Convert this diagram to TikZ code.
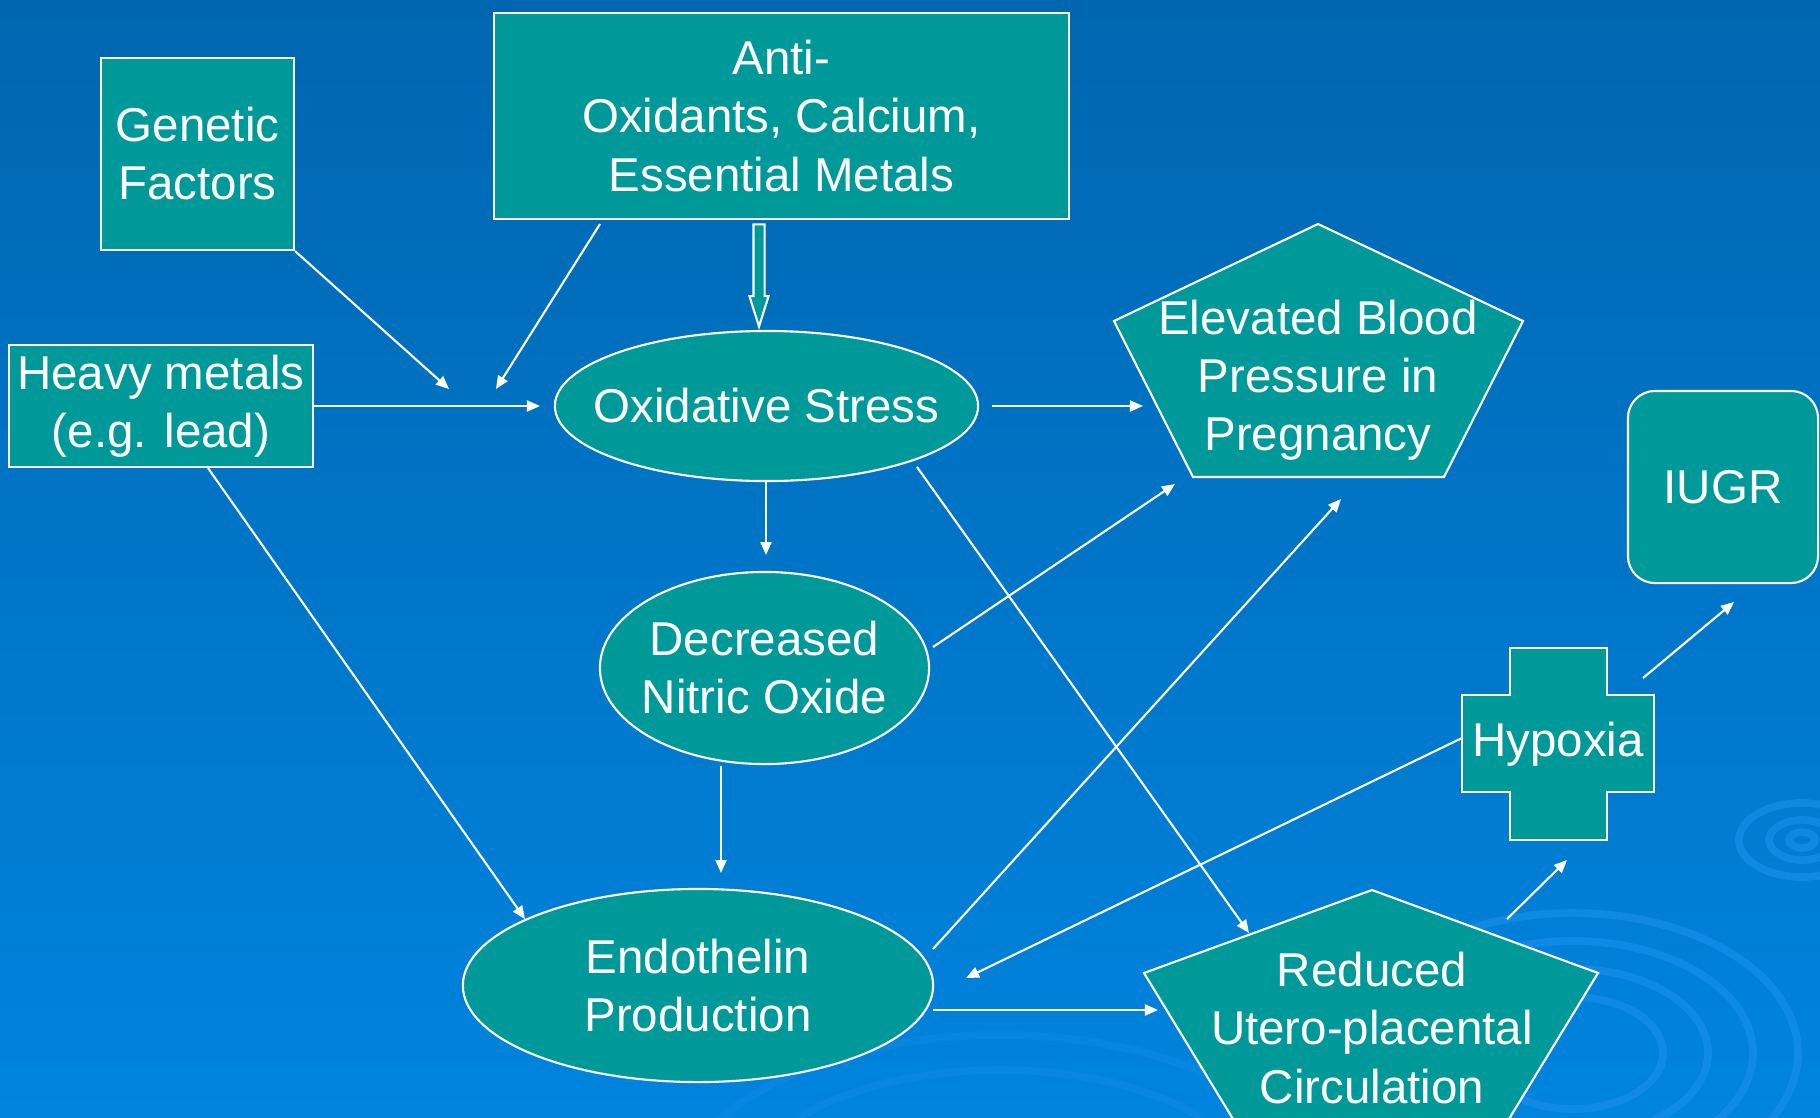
\documentclass[tikz,border=0pt]{standalone}
\usepackage{fontspec}
\setmainfont{Liberation Sans}
\usetikzlibrary{shapes.geometric,shapes.arrows,arrows.meta}

\definecolor{bgtop}{RGB}{0,102,176}
\definecolor{bgmid}{RGB}{0,110,190}
\definecolor{bgbot}{RGB}{0,132,222}
\definecolor{tealbox}{RGB}{0,153,153}
\definecolor{ripple}{RGB}{25,145,235}

\begin{document}
\begin{tikzpicture}
	[
	x=0.01cm, y=-0.01cm,
	font=\fontsize{13.5}{16.5}\selectfont,
	align=center,
	box/.style={draw=white, fill=tealbox, text=white, line width=0.6pt, inner sep=0pt},
	oval/.style={box, ellipse, inner xsep=-0.3cm},
	txt/.style={text=white, inner sep=0pt},
	arr/.style={draw=white, line width=0.6pt, -{Triangle[length=0.13cm, width=0.11cm]}},
	wave/.style={draw=ripple, line width=2.2pt, opacity=0.6},
	]
		% background
		\shade[top color=bgtop, middle color=bgmid, bottom color=bgbot] (0,0) rectangle (1820,1117);
		\useasboundingbox (0,0) rectangle (1820,1117);
		\begin{scope}
			\clip (0,0) rectangle (1820,1117);
			\foreach \rx/\ry in {13/8,33/20,63/37} \draw[wave] (1802,840) ellipse [x radius=\rx, y radius=\ry];
			\foreach \rx/\ry in {90/56,135/84,180/112,225/140} \draw[wave] (1573,1053) ellipse [x radius=\rx, y radius=\ry];
			\foreach \rx/\ry in {260/130,320/165} \draw[wave, opacity=0.3] (1000,1200) ellipse [x radius=\rx, y radius=\ry];
		\end{scope}
		
		% causes
		\node[box, minimum width=1.93cm, minimum height=1.92cm] (gen) at (197.5,154) {Genetic\\Factors};
		\node[box, minimum width=5.75cm, minimum height=2.06cm] (anti) at (781.5,116) {Anti-\\Oxidants, Calcium,\\Essential Metals};
		\node[box, minimum width=3.04cm, minimum height=1.22cm] (heavy) at (161,406) {Heavy metals\\(e.g. lead)};
		
		% pathway
		\node[oval, minimum width=4.23cm, minimum height=1.50cm] (ox) at (766.5,406) {Oxidative Stress};
		\node[oval, minimum width=3.29cm, minimum height=1.92cm] (no) at (764.5,668) {Decreased\\Nitric Oxide};
		\node[oval, minimum width=4.70cm, minimum height=1.93cm] (endo) at (698,985.5) {Endothelin\\Production};
		
		% outcomes
		\filldraw[box] (1318,224) -- (1523,321) -- (1444,477) -- (1193,477) -- (1114,321) -- cycle;
		\node[txt] (ebp) at (1318,380) {Elevated Blood\\Pressure in\\Pregnancy};
		\filldraw[box] (1372,890) -- (1598,973) -- (1484,1160) -- (1258,1160) -- (1144,973) -- cycle;
		\node[txt] (red) at (1372,1028) {Reduced\\Utero-placental\\Circulation};
		\filldraw[box] (1510,648) -- (1607,648) -- (1607,695) -- (1654,695) -- (1654,792) -- (1607,792)
			-- (1607,840) -- (1510,840) -- (1510,792) -- (1462,792) -- (1462,695) -- (1510,695) -- cycle;
		\node[txt] (hyp) at (1558,744) {Hypoxia};
		\node[box, rounded corners=0.27cm, minimum width=1.90cm, minimum height=1.92cm] (iugr) at (1723,487) {IUGR};
		
		% hollow arrow into oxidative stress
		\node[box, single arrow, rotate=-90, anchor=tip, minimum height=1.02cm, inner sep=0.045cm,
			single arrow head extend=0.04cm, single arrow tip angle=35] (feed) at (759,330) {};
		
		% arrow ends
		\coordinate (gen-in) at (449,389);
		\coordinate (anti-out) at (600,224);
		\coordinate (anti-in) at (496,389);
		\coordinate (ox-in) at (540,406);
		\coordinate (ox-out) at (992,406);
		\coordinate (ebp-in1) at (1143,406);
		\coordinate (ox-down) at (766,482);
		\coordinate (no-in) at (766,555);
		\coordinate (no-out) at (933,647);
		\coordinate (ebp-in2) at (1175,484);
		\coordinate (no-down) at (721,766);
		\coordinate (endo-in1) at (721,873);
		\coordinate (heavy-out) at (208,468);
		\coordinate (endo-in2) at (525,919);
		\coordinate (ox-out2) at (917,467);
		\coordinate (red-in1) at (1249,933);
		\coordinate (endo-out) at (933,949);
		\coordinate (ebp-in3) at (1341,499);
		\coordinate (hyp-left) at (1462,738);
		\coordinate (endo-in3) at (966,978);
		\coordinate (endo-out2) at (933,1010);
		\coordinate (red-in2) at (1158,1010);
		\coordinate (red-out) at (1507,919);
		\coordinate (hyp-in) at (1567,860);
		\coordinate (hyp-out) at (1643,678);
		\coordinate (iugr-in) at (1734,602);
		
		\foreach \from/\to in {gen.south east/gen-in,anti-out/anti-in,heavy.east/ox-in,ox-out/ebp-in1,
			ox-down/no-in,no-out/ebp-in2,no-down/endo-in1,heavy-out/endo-in2,ox-out2/red-in1,
			endo-out/ebp-in3,hyp-left/endo-in3,endo-out2/red-in2,red-out/hyp-in,hyp-out/iugr-in}
			\draw[arr] (\from) -- (\to);
		
	\end{tikzpicture}
\end{document}
